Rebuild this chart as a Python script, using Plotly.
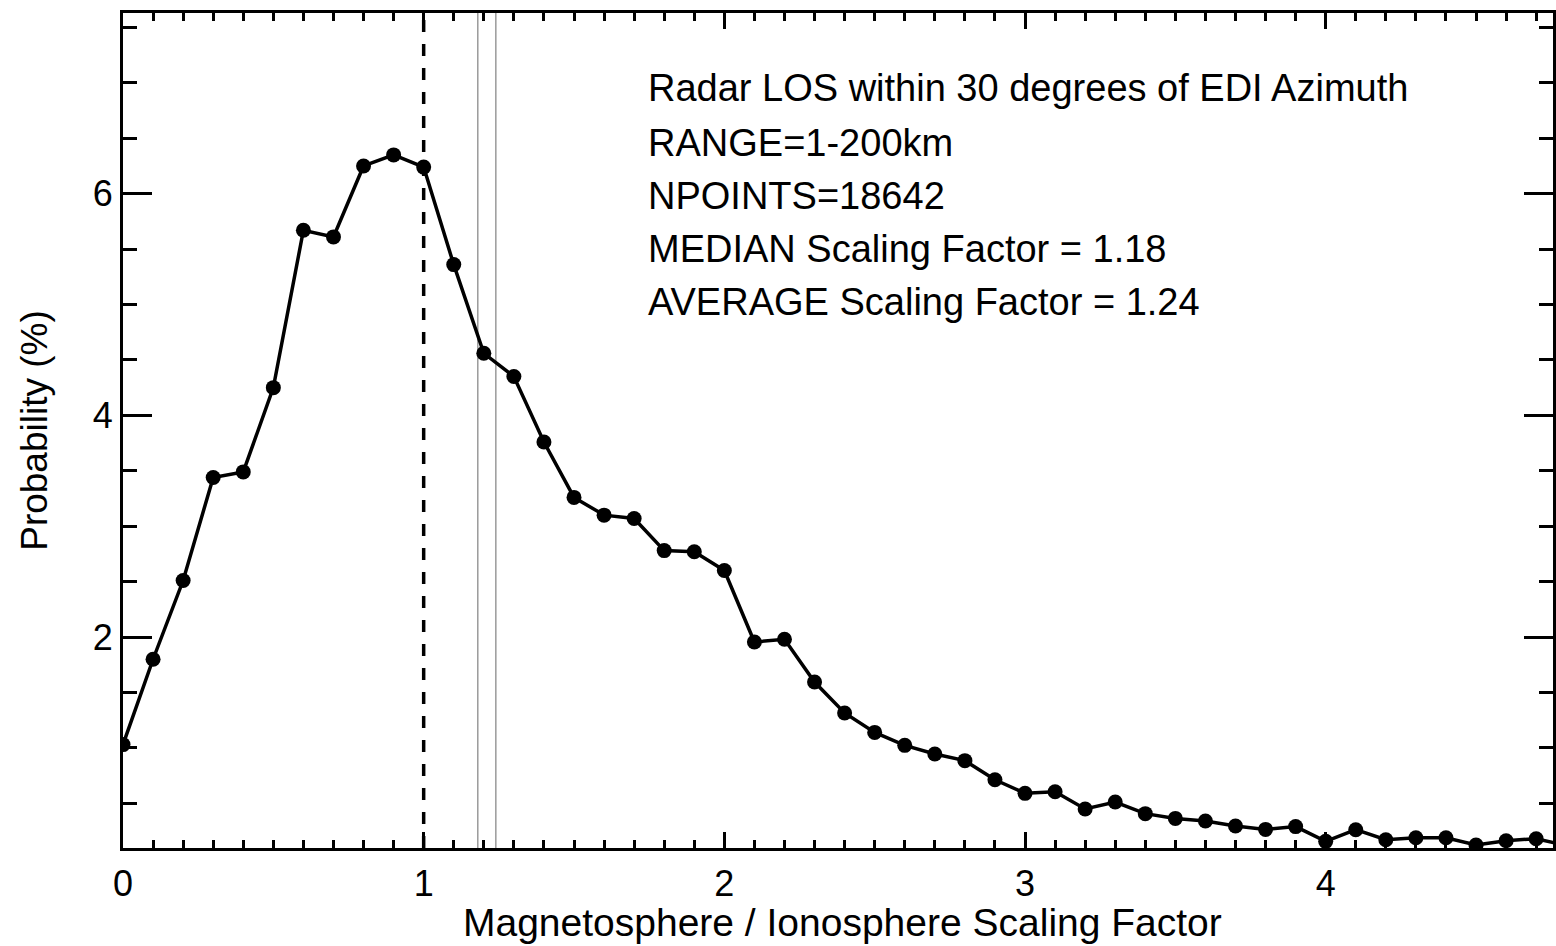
import plotly.graph_objects as go

# ---- data ----
scaling_factor = [0.0, 0.1, 0.2, 0.3, 0.4, 0.5, 0.6, 0.7, 0.8, 0.9,
                  1.0, 1.1, 1.2, 1.3, 1.4, 1.5, 1.6, 1.7, 1.8, 1.9,
                  2.0, 2.1, 2.2, 2.3, 2.4, 2.5, 2.6, 2.7, 2.8, 2.9,
                  3.0, 3.1, 3.2, 3.3, 3.4, 3.5, 3.6, 3.7, 3.8, 3.9,
                  4.0, 4.1, 4.2, 4.3, 4.4, 4.5, 4.6, 4.7, 4.8]
probability = [1.03, 1.80, 2.51, 3.44, 3.49, 4.25, 5.67, 5.61, 6.25, 6.35,
               6.24, 5.36, 4.56, 4.35, 3.76, 3.26, 3.10, 3.07, 2.78, 2.77,
               2.60, 1.955, 1.98, 1.594, 1.315, 1.14, 1.023, 0.945, 0.885, 0.713,
               0.59, 0.605, 0.449, 0.512, 0.407, 0.364, 0.34, 0.295, 0.265, 0.29,
               0.157, 0.262, 0.172, 0.19, 0.19, 0.124, 0.163, 0.181, 0.12]

reference_factor = 1.0
median_factor = 1.18
average_factor = 1.24

info_lines = [
    "Radar LOS within 30 degrees of EDI Azimuth",
    "RANGE=1-200km",
    "NPOINTS=18642",
    "MEDIAN Scaling Factor = 1.18",
    "AVERAGE Scaling Factor = 1.24",
]

x_title = "Magnetosphere / Ionosphere Scaling Factor"
y_title = "Probability (%)"

x_range = [0, 4.756]
y_range = [0.097, 7.63]

FONT = "Liberation Sans, Arial, Helvetica, sans-serif"

fig = go.Figure()
fig.add_trace(go.Scatter(
    x=scaling_factor, y=probability, mode="lines+markers",
    line=dict(color="black", width=3.5),
    marker=dict(color="black", size=15, symbol="circle"),
    showlegend=False, hoverinfo="x+y",
))

# vertical reference lines
fig.add_shape(type="line", xref="x", yref="paper", x0=reference_factor, x1=reference_factor,
              y0=0, y1=1, line=dict(color="black", width=3.5, dash="12px,12px"), layer="below")
for v in (median_factor, average_factor):
    fig.add_shape(type="line", xref="x", yref="paper", x0=v, x1=v, y0=0, y1=1,
                  line=dict(color="#9a9a9a", width=1.5), layer="below")

# annotation text block
line_y = [0.910, 0.844, 0.781, 0.717, 0.654]
for txt, yy in zip(info_lines, line_y):
    fig.add_annotation(text=txt, xref="paper", yref="paper", x=0.366, y=yy,
                       xanchor="left", yanchor="middle", showarrow=False,
                       font=dict(family=FONT, size=38, color="black"))

# x-axis title as annotation (tight spacing like the reference)
fig.add_annotation(text=x_title, xref="paper", yref="paper", x=0.503, y=-0.1174,
                   xanchor="center", yanchor="bottom", showarrow=False,
                   font=dict(family=FONT, size=39, color="black"))

axis_common = dict(
    showline=True, linecolor="black", linewidth=3, mirror="ticks",
    ticks="inside", tickcolor="black", tickwidth=3,
    showgrid=False, zeroline=False,
    tickfont=dict(family=FONT, size=36, color="black"),
)

fig.update_xaxes(
    range=x_range, tick0=0, dtick=1, ticklen=16,
    minor=dict(ticks="inside", tick0=0, dtick=0.1, ticklen=8, tickwidth=3,
               tickcolor="black", showgrid=False),
    ticklabelstandoff=2,
    **axis_common,
)
fig.update_yaxes(
    range=y_range, tick0=0, dtick=2, ticklen=29,
    minor=dict(ticks="inside", tick0=0, dtick=0.5, ticklen=14, tickwidth=3,
               tickcolor="black", showgrid=False),
    title=dict(text=y_title,
               font=dict(family=FONT, size=37, color="black"), standoff=34),
    ticklabelstandoff=0,
    **axis_common,
)

fig.update_layout(
    width=1556, height=946,
    margin=dict(l=123, r=0, t=13, b=98, pad=0),
    plot_bgcolor="white", paper_bgcolor="white",
    font=dict(family=FONT, color="black"),
)

fig.write_html("out.html")
